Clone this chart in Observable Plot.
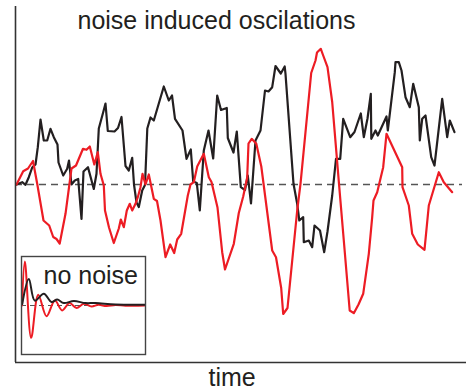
<!DOCTYPE html>
<html>
<head>
<meta charset="utf-8">
<script src="https://cdn.jsdelivr.net/npm/d3@7"></script>
<script src="https://cdn.jsdelivr.net/npm/@observablehq/plot@0.6"></script>
<style>
  html, body { margin: 0; padding: 0; background: #fff; }
  #wrap { position: relative; width: 466px; height: 391px; }
  #inset { position: absolute; left: 20px; top: 255px; }
  svg { font-family: "Liberation Sans", Arial, Helvetica, sans-serif; }
</style>
</head>
<body>
<div id="wrap"><div id="main"></div><div id="inset"></div></div>
<script>
// ---- main panel: noise induced oscillations ----
const titleText = "noise induced oscilations";
const xLabel = "time";
const insetText = "no noise";

const blackT = [0.2,1.34,2.0,2.66,3.34,4.0,4.46,5.0,5.66,6.34,7.0,7.66,8.4,8.6,9.54,10.34,10.7,11.2,11.86,12.54,
  13.2,13.6,14.5,15.66,16.2,16.66,17.54,18.0,18.46,19.8,20.5,21.2,22.0,22.66,23.34,23.7,24.2,24.66,25.34,25.9,
  26.36,27.0,27.66,29.66,30.66,31.3,31.9,33.4,34.2,35.06,35.54,36.26,36.86,37.66,38.6,39.54,40.34,41.1,42.26,42.46,
  43.6,44.26,45.06,45.9,46.46,47.1,48.0,49.0,49.9,50.6,51.34,52.0,53.06,53.84,54.0,55.6,56.34,56.76,57.54,57.66,
  58.66,59.34,59.8,60.9,61.74,62.4,63.34,64.1,64.94,65.54,66.94,67.8,69.06,69.66,70.4,71.06,71.16,72.0,72.46,74.2,
  74.46,75.86,76.0,76.66,77.2,78.0,78.86,79.54,80.66,80.86,81.34,82.0,83.14,83.8,85.34,86.34,86.86,87.8];
const blackV = [0,0.23,-0.03,0.73,1.7,2.0,3.73,6.5,4.4,4.4,5.57,4.73,4.0,2.2,0.9,1.57,2.4,0,0.4,0.55,
  -3.45,1.3,1.73,-0.45,1.07,5.6,7.23,8.1,5.35,5.3,5.65,6.75,1.85,1.4,2.67,0,-1.8,-2.25,-0.6,-0.05,
  5.6,6.7,6.4,9.8,8.4,8.9,6.57,5.4,2.57,3.5,0.3,0.15,-2.6,3.4,5.4,2.6,8.9,7.45,7.65,4.65,
  3.2,5.3,-0.27,-0.55,0.9,-1.9,4.4,5.4,9.4,9.3,9.73,11.85,11.1,11.8,11.07,0.07,-1.93,-3.6,-3.27,-5.77,
  -5.6,-6.27,-4.1,-4.6,-6.77,-4.7,-1.1,2.57,2.57,6.57,4.73,5.25,7.1,4.73,6.6,9.07,4.57,5.4,4.9,6.8,
  5.4,11.23,12.23,12.23,11.4,8.73,7.73,10.07,7.73,4.4,6.57,6.9,2.73,1.9,8.57,4.73,6.4,5.23];

const redT = [0.2,1.54,2.5,3.5,4.34,5.6,6.74,7.54,8.2,8.84,10.0,11.2,12.1,13.5,14.2,14.86,15.76,16.46,17.0,17.66,
  17.9,18.7,19.66,20.66,21.06,21.66,22.26,22.86,23.34,24.0,24.46,25.0,25.4,26.0,26.66,27.66,28.3,29.0,30.0,30.94,
  31.74,32.34,33.14,34.46,35.0,35.66,36.34,37.66,38.66,39.2,40.4,41.34,41.9,43.66,44.66,45.54,46.34,46.6,47.24,48.16,
  49.16,51.34,52.1,53.14,53.54,54.4,56.34,57.0,59.14,60.0,60.3,61.06,61.54,62.4,63.34,64.7,65.66,66.84,67.66,68.6,
  69.54,70.66,71.34,71.6,72.34,73.54,74.2,77.34,77.4,78.66,79.34,80.46,81.8,82.66,84.66,85.66,87.34];
const redV = [0,1.33,1.6,2.35,0.07,-3.6,-4.1,-5.25,-5.45,-5.9,-2.93,1.6,1.9,3.57,3.47,3.8,2.0,3.23,1.07,-0.1,
  -2.6,-4.3,-5.85,-4.4,-3.5,-4.27,-2.6,-1.93,-2.6,-1.93,-1.27,-0.27,1.07,0,1.0,-1.43,-1.65,-3.6,-7.27,-6.0,
  -6.85,-5.5,-4.93,-1.1,0,0.23,1.8,3.07,0.73,0.25,-2.3,-6.77,-8.5,-5.93,-2.85,-1.2,0.7,4.1,4.57,4.07,
  1.8,-6.6,-7.27,-10.35,-12.95,-12.35,-2.6,0.07,11.15,12.4,13.2,13.57,12.9,11.73,8.25,0.07,-5.6,-12.6,-12.87,-12.0,
  -10.93,-6.93,-3.27,-1.6,-0.77,1.73,5.07,1.73,-0.27,-2.1,-4.93,-6.0,-6.53,-2.1,1.23,0.23,-0.77];

// ---- inset: no noise (damped oscillations) ----
const insetRedT = [0.04,0.27,0.78,1.35,2.02,2.69,3.28,3.87,4.44,5.02,5.65,6.21,6.85,7.58,8.39,9.92];
const insetRedV = [0,0.9,-0.66,0.22,-0.22,0.1,-0.1,0.05,-0.05,0.035,-0.02,0.015,-0.012,0.008,-0.004,0];
const insetBlackT = [0.06,0.59,1.07,1.8,2.42,2.88,3.41,4.22,5.16,5.97,7.58,9.94];
const insetBlackV = [0.03,0.54,0.1,0.24,0.07,0.12,0.05,0.09,0.05,0.05,0.02,0.015];

const BLACK = "#231f20", RED = "#ed1c24", AXIS = "#333333", DASH = "#555555";
const FONT = "'Liberation Sans', Arial, Helvetica, sans-serif";

const toRows = (T, V) => T.map((t, i) => ({t, v: V[i]}));
const blackRows = toRows(blackT, blackV);
const redRows = toRows(redT, redV);
const insetBlackRows = toRows(insetBlackT, insetBlackV);
const insetRedRows = toRows(insetRedT, insetRedV);

const main = Plot.plot({
  width: 466, height: 391,
  marginLeft: 15, marginRight: 0, marginTop: 6, marginBottom: 29,
  x: {domain: [0, 90.2], axis: null},
  y: {domain: [-17.8, 17.8], axis: null},
  style: {fontFamily: FONT, background: "#fff"},
  marks: [
    Plot.ruleY([0], {stroke: DASH, strokeWidth: 1.3, strokeDasharray: "7,5", insetRight: 4}),
    Plot.line(blackRows, {x: "t", y: "v", stroke: BLACK, strokeWidth: 2.2}),
    Plot.line(redRows, {x: "t", y: "v", stroke: RED, strokeWidth: 2.2}),
    Plot.ruleX([0], {stroke: AXIS, strokeWidth: 1.6}),
    Plot.ruleY([-17.8], {stroke: AXIS, strokeWidth: 1.6}),
    Plot.text([titleText], {text: d => d, frameAnchor: "top-left", textAnchor: "start", lineAnchor: "top",
      dx: 62, dy: 4.5, fontSize: 25, fill: BLACK}),
    Plot.text([xLabel], {text: d => d, frameAnchor: "bottom-left", textAnchor: "start", lineAnchor: "top",
      dx: 193, dy: 6, fontSize: 25, fill: BLACK})
  ]
});
document.getElementById("main").appendChild(main);

const inset = Plot.plot({
  width: 126, height: 100,
  marginLeft: 1, marginRight: 1, marginTop: 1, marginBottom: 1,
  x: {domain: [0, 10], axis: null},
  y: {domain: [-1, 1], axis: null},
  style: {fontFamily: FONT, background: "#fff", overflow: "visible"},
  marks: [
    Plot.ruleY([0], {stroke: DASH, strokeWidth: 1, strokeDasharray: "5,4"}),
    Plot.line(insetRedRows, {x: "t", y: "v", stroke: RED, strokeWidth: 2, curve: "catmull-rom"}),
    Plot.line(insetBlackRows, {x: "t", y: "v", stroke: BLACK, strokeWidth: 2, curve: "catmull-rom"}),
    Plot.frame({stroke: "#444", strokeWidth: 1.4}),
    Plot.text([insetText], {text: d => d, frameAnchor: "top-left", textAnchor: "start", lineAnchor: "top",
      dx: 22, dy: 9.5, fontSize: 25, fill: BLACK})
  ]
});
document.getElementById("inset").appendChild(inset);
</script>
</body>
</html>
